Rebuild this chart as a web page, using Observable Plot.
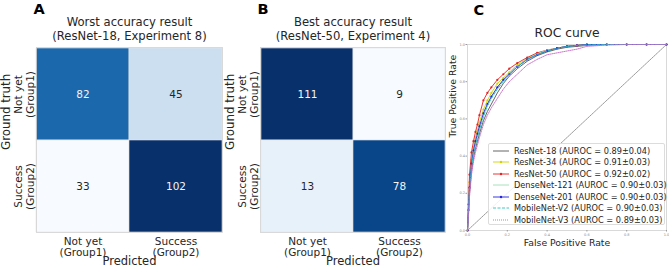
<!DOCTYPE html>
<html>
<head>
<meta charset="utf-8">
<script src="https://cdn.jsdelivr.net/npm/d3@7"></script>
<script src="https://cdn.jsdelivr.net/npm/@observablehq/plot@0.6"></script>
<style>
  html, body { margin: 0; padding: 0; background: #fff; }
  #wrap { position: relative; width: 669px; height: 267px; overflow: hidden; font-family: "DejaVu Sans", sans-serif; color: #262626; }
  .panel { position: absolute; top: 0; }
  #legend { position: absolute; left: 488px; top: 143px; width: 177px; height: 82px; box-sizing: border-box;
            border: 1px solid #dcdcdc; border-radius: 2px; background: rgba(255,255,255,0.85); font-size: 8.2px; }
  .lrow { position: absolute; left: 0; height: 11px; display: flex; align-items: center; white-space: nowrap; }
  .lrow svg { margin-left: 4px; margin-right: 5px; }
</style>
</head>
<body>
<div id="wrap"></div>
<script>
// ---------- data ----------
const classLabels = ["Not yet\n(Group1)", "Success\n(Group2)"];
const worstCounts = [[82, 45], [33, 102]];   // rows: ground truth, cols: predicted
const bestCounts  = [[111, 9], [13, 78]];
const worstTitle = "Worst accuracy result\n(ResNet-18, Experiment 8)";
const bestTitle  = "Best accuracy result\n(ResNet-50, Experiment 4)";

const fpr = [0, 0.005, 0.01, 0.02, 0.03, 0.04, 0.05, 0.06, 0.08, 0.10, 0.12, 0.15, 0.18, 0.21, 0.25, 0.30, 0.35, 0.40, 0.45, 0.50, 0.55, 0.60, 0.70, 0.80, 0.90, 1.0];
const tprResNet18    = [0, .09, .20, .32, .39, .44, .48, .52, .59, .64, .68, .74, .79, .83, .87, .91, .94, .96, .975, .985, .99, .995, 1, 1, 1, 1];
const tprResNet34    = [0, .12, .26, .38, .45, .50, .54, .58, .65, .70, .74, .79, .82, .85, .89, .925, .95, .965, .98, .99, .995, 1, 1, 1, 1, 1];
const tprResNet50    = [0, .14, .30, .42, .48, .53, .57, .62, .70, .74, .77, .81, .84, .87, .90, .93, .955, .97, .98, .99, .995, 1, 1, 1, 1, 1];
const tprDenseNet121 = [0, .10, .22, .35, .42, .47, .51, .55, .62, .68, .72, .77, .81, .85, .88, .92, .95, .97, .98, .99, .995, .998, 1, 1, 1, 1];
const tprDenseNet201 = [0, .11, .23, .36, .43, .48, .52, .56, .63, .68, .72, .77, .81, .84, .88, .92, .945, .965, .98, .99, .995, 1, 1, 1, 1, 1];
const tprMobileNetV2 = [0, .10, .22, .34, .41, .46, .50, .54, .61, .67, .71, .76, .80, .84, .88, .92, .945, .965, .98, .99, .995, .998, 1, 1, 1, 1];
const tprMobileNetV3 = [0, .08, .18, .30, .37, .42, .46, .50, .57, .62, .66, .71, .76, .80, .84, .89, .92, .945, .955, .965, .975, .99, .997, 1, 1, 1];

const models = ["ResNet-18", "ResNet-34", "ResNet-50", "DenseNet-121", "DenseNet-201", "MobileNet-V2", "MobileNet-V3"];
const aurocMean = ["0.89", "0.91", "0.92", "0.90", "0.90", "0.90", "0.89"];
const aurocSd   = ["0.04", "0.03", "0.02", "0.03", "0.03", "0.03", "0.03"];
const tprSeries = [tprResNet18, tprResNet34, tprResNet50, tprDenseNet121, tprDenseNet201, tprMobileNetV2, tprMobileNetV3];
const rocTicks = [0, 0.2, 0.4, 0.6, 0.8, 1.0];

// ---------- styles ----------
const lineColors = ["#555555", "#d2d200", "#e82020", "#a3dcb8", "#2222dd", "#2fc0c0", "#c566c5"];
const lineDash   = [null, null, null, null, null, "3,1.5", "1,1"];
const lineMarker = [false, true, true, false, true, false, false];

const wrap = document.getElementById("wrap");

function confusion(counts, title, letter, left, marginRight) {
  const cells = [];
  counts.forEach((row, i) => {
    const total = d3.sum(row);
    row.forEach((v, j) => cells.push({truth: classLabels[i], pred: classLabels[j], value: v, share: v / total}));
  });
  const shares = cells.map(d => d.share);
  const lo = d3.min(shares), hi = d3.max(shares), mid = (lo + hi) / 2;
  const p = Plot.plot({
    width: 230, height: 267,
    marginLeft: 36, marginRight, marginTop: 47, marginBottom: 35,
    style: {fontFamily: "DejaVu Sans", color: "#262626", background: "transparent", overflow: "visible"},
    x: {domain: classLabels, padding: 0, label: null},
    y: {domain: classLabels, padding: 0, label: null},
    color: {type: "linear", scheme: "blues", domain: [lo, hi]},
    marks: [
      Plot.cell(cells, {x: "pred", y: "truth", fill: "share", stroke: "#e4e4e4", strokeWidth: 0.6}),
      Plot.text(cells.filter(d => d.share > mid), {x: "pred", y: "truth", text: "value", fill: "#f4f4f4", fontSize: 10.5}),
      Plot.text(cells.filter(d => d.share <= mid), {x: "pred", y: "truth", text: "value", fill: "#262626", fontSize: 10.5}),
      Plot.frame({stroke: "#d2d2d2", strokeWidth: 0.8}),
      Plot.axisX({tickSize: 0, tickPadding: 4, fontSize: 10.5, lineHeight: 1.1, label: null}),
      Plot.axisY({tickSize: 0, tickPadding: 2.5, tickRotate: -90, textAnchor: "middle", lineAnchor: "bottom", fontSize: 10.5, lineHeight: 1.1, label: null}),
      Plot.text(["Predicted"], {frameAnchor: "bottom", lineAnchor: "bottom", dy: 32.5, fontSize: 11.5}),
      Plot.text(["Ground truth"], {frameAnchor: "left", rotate: -90, lineAnchor: "bottom", dx: -26.5, dy: 10, fontSize: 11.8}),
      Plot.text([title], {frameAnchor: "top", lineAnchor: "bottom", dy: -8, lineHeight: 1.13, fontSize: 11.6}),
      Plot.text([letter], {frameAnchor: "top-left", textAnchor: "start", lineAnchor: "bottom", dx: -3, dy: -34, fontSize: 14.5, fontWeight: "bold", fill: "#000"})
    ]
  });
  p.classList.add("panel");
  p.style.left = left + "px";
  wrap.appendChild(p);
}

confusion(worstCounts, worstTitle, "A", 0, 8);
confusion(bestCounts, bestTitle, "B", 224, 9);

// ---------- ROC ----------
const marks = [
  Plot.frame({stroke: "#d0d0d0", strokeWidth: 0.8}),
  Plot.line([[0, 0], [1, 1]], {x: d => d[0], y: d => d[1], stroke: "#333", strokeWidth: 0.5, strokeDasharray: "1.5,1"})
];
models.forEach((m, k) => {
  const pts = fpr.map((f, i) => ({fpr: f, tpr: tprSeries[k][i]}));
  marks.push(Plot.line(pts, {x: "fpr", y: "tpr", stroke: lineColors[k], strokeWidth: 0.9, strokeDasharray: lineDash[k]}));
  if (lineMarker[k]) marks.push(Plot.dot(pts, {x: "fpr", y: "tpr", fill: lineColors[k], r: 1.1}));
});
marks.push(
  Plot.axisX({ticks: rocTicks, tickFormat: d3.format(".1f"), tickSize: 1.5, tickPadding: 1, fontSize: 3.5, stroke: "#999", fill: "#888", label: null}),
  Plot.axisY({ticks: rocTicks, tickFormat: d3.format(".1f"), tickSize: 1.5, tickPadding: 1, fontSize: 3.5, stroke: "#999", fill: "#888", label: null}),
  Plot.text(["False Positive Rate"], {frameAnchor: "bottom", lineAnchor: "bottom", dy: 15, fontSize: 9.3}),
  Plot.text(["True Positive Rate"], {frameAnchor: "left", rotate: -90, lineAnchor: "bottom", dx: -11.5, fontSize: 9.3}),
  Plot.text(["ROC curve"], {frameAnchor: "top", lineAnchor: "bottom", dy: -8, fontSize: 12.3}),
  Plot.text(["C"], {frameAnchor: "top-left", textAnchor: "start", lineAnchor: "bottom", dx: 6, dy: -30, fontSize: 14.5, fontWeight: "bold", fill: "#000"})
);
const roc = Plot.plot({
  width: 229, height: 267,
  marginLeft: 27, marginRight: 3, marginTop: 44, marginBottom: 37,
  style: {fontFamily: "DejaVu Sans", color: "#262626", background: "transparent", overflow: "visible"},
  x: {domain: [0, 1], label: null},
  y: {domain: [0, 1], label: null},
  marks
});
roc.classList.add("panel");
roc.style.left = "440px";
wrap.appendChild(roc);

// ---------- legend ----------
const legend = document.createElement("div");
legend.id = "legend";
models.forEach((m, k) => {
  const row = document.createElement("div");
  row.className = "lrow";
  row.style.top = (1 + k * 11.5) + "px";
  const ns = "http://www.w3.org/2000/svg";
  const s = document.createElementNS(ns, "svg");
  s.setAttribute("width", 16); s.setAttribute("height", 6);
  const ln = document.createElementNS(ns, "line");
  ln.setAttribute("x1", 0); ln.setAttribute("x2", 16); ln.setAttribute("y1", 3); ln.setAttribute("y2", 3);
  ln.setAttribute("stroke", lineColors[k]); ln.setAttribute("stroke-width", 0.9);
  if (lineDash[k]) ln.setAttribute("stroke-dasharray", lineDash[k]);
  s.appendChild(ln);
  if (lineMarker[k]) {
    const c = document.createElementNS(ns, "circle");
    c.setAttribute("cx", 8); c.setAttribute("cy", 3); c.setAttribute("r", 1.2); c.setAttribute("fill", lineColors[k]);
    s.appendChild(c);
  }
  row.appendChild(s);
  const t = document.createElement("span");
  t.textContent = `${m} (AUROC = ${aurocMean[k]}±${aurocSd[k]})`;
  row.appendChild(t);
  legend.appendChild(row);
});
wrap.appendChild(legend);
</script>
</body>
</html>
